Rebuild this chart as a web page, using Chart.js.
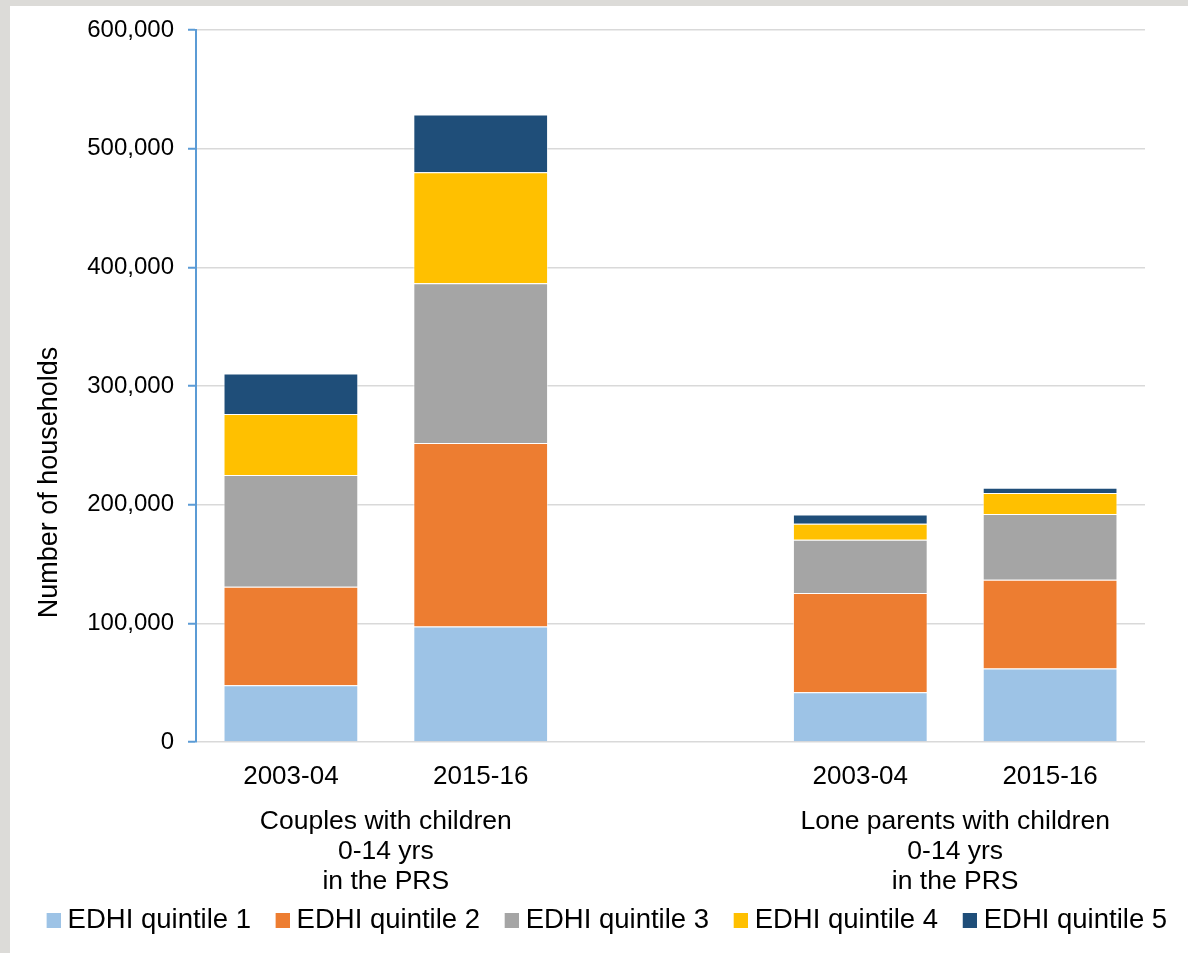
<!DOCTYPE html>
<html>
<head>
<meta charset="utf-8">
<script src="https://cdn.jsdelivr.net/npm/chart.js@4.4.1/dist/chart.umd.min.js"></script>
<style>
  html, body { margin: 0; padding: 0; }
  body { width: 1188px; height: 953px; background: #dcdbd8; position: relative; overflow: hidden; }
  #wrap { position: absolute; left: 10px; top: 6px; width: 1178px; height: 947px; background: #ffffff; }
</style>
</head>
<body>
<div id="wrap"><canvas id="c"></canvas></div>
<script>
// ---- data ----
const categories = ['2003-04', '2015-16', '', '2003-04', '2015-16'];
const groupLabels = ['', '', ['Couples with children', '0-14 yrs', 'in the PRS'], '', '', '', '', '', ['Lone parents with children', '0-14 yrs', 'in the PRS'], '', ''];
const seriesNames = ['EDHI quintile 1', 'EDHI quintile 2', 'EDHI quintile 3', 'EDHI quintile 4', 'EDHI quintile 5'];
const quintile1 = [47800, 97300, null, 41900, 61900];
const quintile2 = [82900, 154600, null, 83700, 74700];
const quintile3 = [94200, 134600, null, 44700, 55600];
const quintile4 = [51400, 93600, null, 13500, 17500];
const quintile5 = [34300, 48600, null, 7900, 4500];
const yTicks = [0, 100000, 200000, 300000, 400000, 500000, 600000];
const yTitle = 'Number of households';

const colors = ['#9DC3E6', '#ED7D31', '#A5A5A5', '#FFC000', '#1F4E79'];
const seriesValues = [quintile1, quintile2, quintile3, quintile4, quintile5];

Chart.defaults.font.family = '"Liberation Sans", Arial, sans-serif';
Chart.defaults.color = '#000000';

// legend swatches: 14 x 15 square at the right end of a 36px-wide transparent canvas
const swatches = colors.map(c => {
  const cv = document.createElement('canvas');
  cv.width = 36; cv.height = 15;
  const g = cv.getContext('2d');
  g.fillStyle = c;
  g.fillRect(22, 0, 14, 15);
  return cv;
});

const yTitlePlugin = {
  id: 'yTitlePlugin',
  afterDraw(chart) {
    const ctx = chart.ctx;
    ctx.save();
    ctx.font = '27px "Liberation Sans", Arial, sans-serif';
    ctx.fillStyle = '#000';
    ctx.textAlign = 'center';
    ctx.textBaseline = 'alphabetic';
    ctx.translate(46.5, 476.5);
    ctx.rotate(-Math.PI / 2);
    ctx.fillText(yTitle, 0, 0);
    ctx.restore();
  }
};

new Chart(document.getElementById('c'), {
  type: 'bar',
  data: {
    labels: categories,
    datasets: seriesValues.map((vals, i) => ({
      label: seriesNames[i],
      data: vals,
      backgroundColor: colors[i],
      borderColor: 'rgba(255,255,255,0.55)',
      borderWidth: 1,
      categoryPercentage: 1.0,
      barPercentage: 0.71
    }))
  },
  options: {
    responsive: true,
    maintainAspectRatio: false,
    animation: false,
    layout: { padding: { left: 12, right: 0, top: 24, bottom: 8.5 } },
    plugins: {
      legend: {
        position: 'bottom',
        align: 'start',
        labels: {
          usePointStyle: true,
          boxWidth: 22.5,
          boxHeight: 15,
          padding: 9.35,
          font: { size: 27.5 },
          color: '#000',
          generateLabels(chart) {
            return chart.data.datasets.map((ds, i) => ({
              text: ds.label,
              fillStyle: ds.backgroundColor,
              strokeStyle: ds.backgroundColor,
              lineWidth: 0,
              pointStyle: swatches[i],
              hidden: false,
              datasetIndex: i,
              fontColor: '#000'
            }));
          }
        }
      },
      tooltip: { enabled: false }
    },
    scales: {
      x: {
        stacked: true,
        weight: 0,
        grid: { display: false, drawTicks: false },
        border: { display: false },
        ticks: { font: { size: 26 }, padding: 19, autoSkip: false, maxRotation: 0 },
        afterFit(s) { s.height = 60; }
      },
      x2: {
        type: 'category',
        labels: groupLabels,
        position: 'bottom',
        offset: false,
        weight: 1,
        grid: { display: false, drawTicks: false },
        border: { display: false },
        ticks: { font: { size: 26.5, lineHeight: 1.13 }, padding: 5, autoSkip: false, maxRotation: 0 },
        afterFit(s) { s.height = 95.7; }
      },
      y: {
        stacked: true,
        min: 0,
        max: 600000,
        afterBuildTicks(s) { s.ticks = yTicks.map(v => ({ value: v })); },
        grid: { color: '#d9d9d9', lineWidth: 1.5, tickColor: '#5B9BD5', tickWidth: 2, tickLength: 8 },
        border: { display: true, color: '#5B9BD5', width: 2 },
        ticks: {
          font: { size: 24, lineHeight: 0.8 },
          padding: 14,
          callback: v => Number(v).toLocaleString('en-US')
        },
        afterFit(s) { s.width = 174; }
      },
      y2: {
        type: 'linear',
        position: 'right',
        min: 0, max: 1,
        grid: { display: false, drawTicks: false },
        border: { display: false },
        ticks: { display: false },
        afterFit(s) { s.width = 43; }
      }
    }
  },
  plugins: [yTitlePlugin]
});
</script>
</body>
</html>
